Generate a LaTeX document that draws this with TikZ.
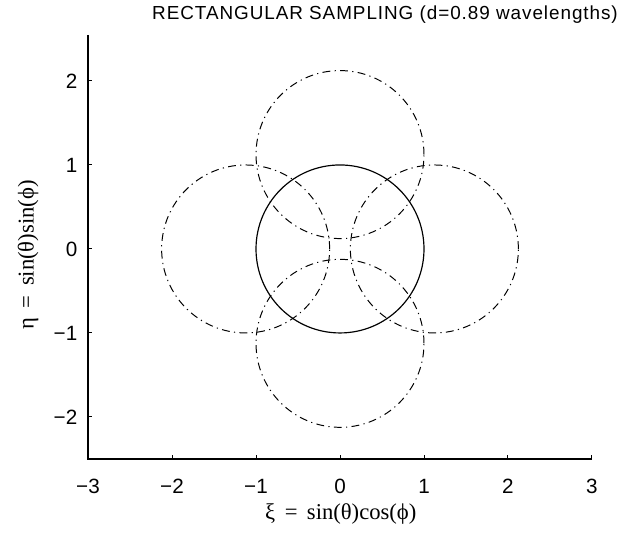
\documentclass[tikz,border=0pt]{standalone}
\usepackage{fontspec}
\setmainfont{Liberation Serif}
\setsansfont{Liberation Sans}
\newfontfamily\titlefont[LetterSpace=5]{Liberation Sans}
\usetikzlibrary{positioning}
\tikzset{
  dashdot line/.style = {line width=0.5pt, dash pattern=on 4pt off 2.2pt on 0.6pt off 2.2pt},
  tick label/.style   = {font=\sffamily\fontsize{10.5}{12}\selectfont, inner sep=1pt},
  axis label/.style   = {font=\fontsize{11.5}{13}\selectfont}
}

\begin{document}
\begin{tikzpicture}[x=1.5cm,y=1.5cm]
    \useasboundingbox (-4.048,-3.405) rectangle (3.405,2.964);
    % axes (left and bottom only)
    \coordinate (corner) at (-3,-2.5);
    \coordinate (ytop) at (-3,2.55);
    \coordinate (xend) at (3,-2.5);
    \draw[line width=0.6pt] (ytop) -- (corner) -- (xend);
    \foreach \x/\t in {-3/−3,-2/−2,-1/−1,0/0,1/1,2/2,3/3}{
      \draw[line width=0.5pt] (\x,-2.5) -- ++(0,0.05);
      \node[tick label] (xt\x) at (\x,-2.83) {\t};
    }
    \foreach \y/\t in {-2/−2,-1/−1,0/0,1/1,2/2}{
      \draw[line width=0.5pt] (-3,\y) -- ++(0.05,0);
      \node[tick label, anchor=east] (yt\y) at (-3.1,\y) {\t};
    }

    % unit circle and the four shifted copies (d=0.89)
    \draw[line width=0.6pt] (0,0) circle (1);
    \draw[dashdot line] (1.1236,0) circle (1);
    \draw[dashdot line] (-1.1236,0) circle (1);
    \draw[dashdot line] (0,1.1236) circle (1);
    \draw[dashdot line] (0,-1.1236) circle (1);

    \node[font=\titlefont\fontsize{9.6}{11}\selectfont] (title) at (0.536,2.79)
      {RECTANGULAR SAMPLING (d=0.89 wavelengths)};
    \node[axis label] (xlab) at (0.01,-3.16) {ξ \,=\, sin(θ)cos(ϕ)};
    \node[axis label, rotate=90] (ylab) at (-3.714,-0.07) {η \,=\, sin(θ)sin(ϕ)};
\end{tikzpicture}
\end{document}
